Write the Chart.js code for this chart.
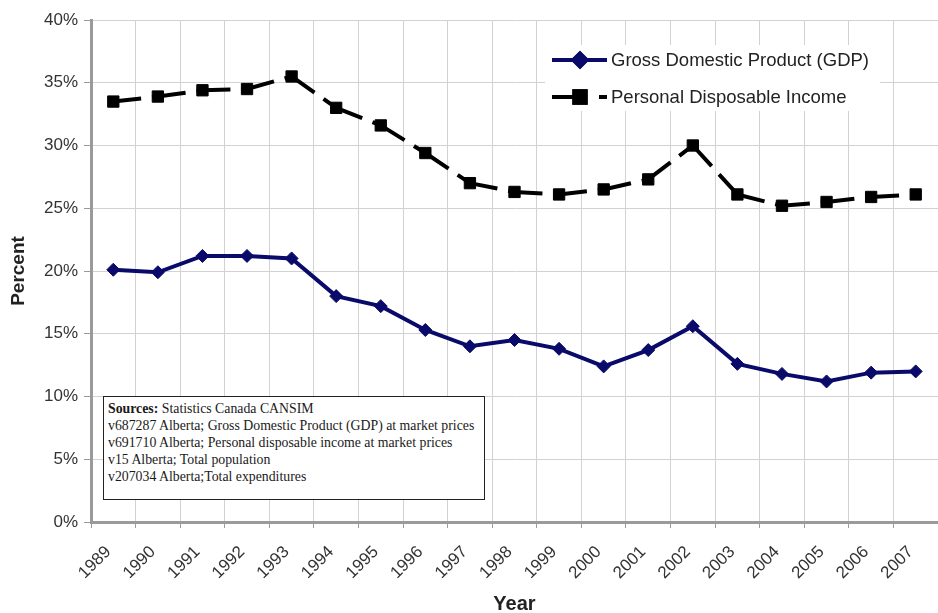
<!DOCTYPE html>
<html>
<head>
<meta charset="utf-8">
<script src="https://cdn.jsdelivr.net/npm/chart.js@4/dist/chart.umd.min.js"></script>
<style>
html,body{margin:0;padding:0;background:#fff;overflow:hidden;width:938px;height:613px}
#wrap{position:relative;width:947px;height:620px}
#src{position:absolute;left:103px;top:396px;width:376px;height:99px;border:1.5px solid #222;background:#fff;
font-family:"Liberation Serif","Times New Roman",serif;font-size:13.8px;line-height:17px;color:#1a1a1a;padding:3px 0 0 4px;box-sizing:content-box;white-space:nowrap}
#src b{font-weight:bold}
</style>
</head>
<body>
<div id="wrap">
<canvas id="c" width="947" height="620"></canvas>
<div id="src"><b>Sources:</b> Statistics Canada CANSIM<br>v687287 Alberta; Gross Domestic Product (GDP) at market prices<br>v691710 Alberta; Personal disposable income at market prices<br>v15 Alberta; Total population<br>v207034 Alberta;Total expenditures</div>
</div>
<script>
const years=["1989","1990","1991","1992","1993","1994","1995","1996","1997","1998","1999","2000","2001","2002","2003","2004","2005","2006","2007"]
const gdp=[20.1,19.9,21.2,21.2,21.0,18.0,17.2,15.3,14.0,14.5,13.8,12.4,13.7,15.6,12.6,11.8,11.2,11.9,12.0]
const pdi=[33.5,33.9,34.4,34.5,35.5,33.0,31.6,29.4,27.0,26.3,26.1,26.5,27.3,30.0,26.1,25.2,25.5,25.9,26.1]
const yTicks=[0,5,10,15,20,25,30,35,40]

const navy="#0a0a6a"
const gridCol="#d2d2d2"
const axisCol="#9a9a9a"

// legend drawn inside the plot, like the Excel original
const boxLegend={
id:"boxLegend",
afterDatasetsDraw(chart){
const ctx=chart.ctx
ctx.save()
ctx.fillStyle="#fff"
ctx.fillRect(545,45,335,66)
const rows=[[60,chart.data.datasets[0]],[97,chart.data.datasets[1]]]
rows.forEach(([y,ds],i)=>{
ctx.strokeStyle=ds.borderColor
ctx.lineWidth=4
ctx.setLineDash(i? [26,21]:[])
ctx.beginPath();ctx.moveTo(552,y);ctx.lineTo(607,y);ctx.stroke()
ctx.setLineDash([])
ctx.fillStyle=ds.borderColor
Chart.helpers.drawPoint(ctx,{pointStyle:ds.pointStyle,radius:ds.pointRadius,borderWidth:1},580,y)
ctx.fill();ctx.stroke()
ctx.fillStyle="#222"
ctx.font="18.5px 'Liberation Sans', Arial, sans-serif"
ctx.textBaseline="middle"
ctx.textAlign="left"
ctx.fillText(ds.label,611,y+1)
})
ctx.restore()
}
}

new Chart(document.getElementById("c"),{
type:"line",
data:{labels:years,datasets:[
{label:"Gross Domestic Product (GDP)",data:gdp,borderColor:navy,backgroundColor:navy,borderWidth:4,
pointStyle:"rectRot",pointRadius:6.5,pointBorderWidth:1,pointBorderColor:navy,pointBackgroundColor:navy,tension:0},
{label:"Personal Disposable Income",data:pdi,borderColor:"#000",backgroundColor:"#000",borderWidth:4,
borderDash:[28,11],pointStyle:"rect",pointRadius:8,pointBorderWidth:1,pointBackgroundColor:"#000",tension:0,
segment:{borderDashOffset:c=>c.p0DataIndex*0.001}}
]},
options:{
responsive:false,
animation:false,
layout:{padding:{top:20,right:0,bottom:0,left:0}},
plugins:{legend:{display:false},tooltip:{enabled:false}},
scales:{
x:{
offset:true,
afterFit(s){s.height=98},
grid:{offset:true,color:gridCol,lineWidth:1,tickLength:6,tickColor:axisCol},
border:{color:axisCol,width:3},
ticks:{color:"#333",font:{family:"'Liberation Sans', Arial, sans-serif",size:17},minRotation:45,maxRotation:45,padding:14,labelOffset:-5,autoSkip:false},
title:{display:true,text:"Year",color:"#222",font:{family:"'Liberation Sans', Arial, sans-serif",size:20,weight:"bold"},padding:{top:0,bottom:4}}
},
y:{
min:0,max:40,
afterFit(s){s.width=91},
afterBuildTicks(s){s.ticks=yTicks.map(v=>({value:v}))},
grid:{color:gridCol,lineWidth:1,tickLength:7,tickColor:axisCol},
border:{color:axisCol,width:3},
ticks:{color:"#333",font:{family:"'Liberation Sans', Arial, sans-serif",size:17},padding:6,callback:v=>v+"%"},
title:{display:true,text:"Percent",color:"#222",font:{family:"'Liberation Sans', Arial, sans-serif",size:19,weight:"bold"},padding:{top:7,bottom:0}}
}
}
},
plugins:[boxLegend]
})
</script>
</body>
</html>
